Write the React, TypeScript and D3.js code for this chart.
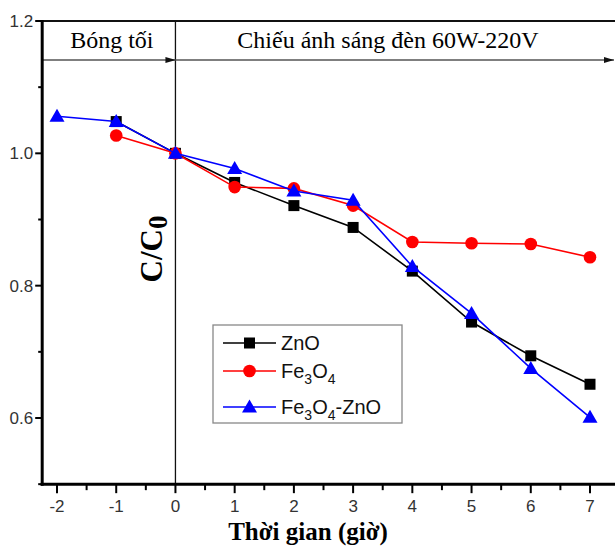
import React, { useEffect, useRef } from "react";
import * as d3 from "d3";

const hours = [-2, -1, 0, 1, 2, 3, 4, 5, 6, 7];
const zno = [null, 1.048, 1.0, 0.956, 0.921, 0.888, 0.822, 0.745, 0.694, 0.651];
const fe3o4 = [null, 1.027, 1.0, 0.949, 0.947, 0.921, 0.866, 0.864, 0.863, 0.843];
const fe3o4Zno = [1.056, 1.048, 1.0, 0.977, 0.943, 0.929, 0.829, 0.758, 0.675, 0.601];
const yTicks = [0.6, 0.8, 1.0, 1.2];

const series = [
  { name: "ZnO", values: zno, color: "#000000", shape: "square" },
  { name: "Fe3O4", values: fe3o4, color: "#ff0000", shape: "circle" },
  { name: "Fe3O4-ZnO", values: fe3o4Zno, color: "#0000ff", shape: "triangle" },
];

const W = 615;
const H = 549;

const App = () => {
  const ref = useRef<SVGSVGElement>(null);

  useEffect(() => {
    const svg = d3.select(ref.current);
    svg.selectAll("*").remove();

    const x = d3.scaleLinear().domain([-2, 7]).range([57, 590]);
    const y = d3.scaleLinear().domain([0.6, 1.2]).range([418, 21]);
    const left = x(-2.25);
    const bottom = y(0.5);
    const top = y(1.2);

    const defs = svg.append("defs");
    defs
      .append("marker")
      .attr("id", "arr")
      .attr("viewBox", "0 0 10 6")
      .attr("refX", 10)
      .attr("refY", 3)
      .attr("markerWidth", 10)
      .attr("markerHeight", 6)
      .attr("markerUnits", "userSpaceOnUse")
      .attr("orient", "auto")
      .append("path")
      .attr("d", "M0,0L10,3L0,6Z")
      .attr("fill", "#111");

    // frame lines
    svg.append("line")
      .attr("x1", left).attr("x2", W).attr("y1", top).attr("y2", top)
      .attr("stroke", "#111").attr("stroke-width", 2);
    svg.append("line")
      .attr("x1", x(0)).attr("x2", x(0)).attr("y1", top).attr("y2", bottom)
      .attr("stroke", "#111").attr("stroke-width", 1.3);

    // region arrows
    const arrowY = 60;
    svg.append("line")
      .attr("x1", left).attr("x2", x(0)).attr("y1", arrowY).attr("y2", arrowY)
      .attr("stroke", "#555").attr("stroke-width", 1.3)
      .attr("marker-end", "url(#arr)");
    svg.append("line")
      .attr("x1", x(0)).attr("x2", W - 1).attr("y1", arrowY).attr("y2", arrowY)
      .attr("stroke", "#555").attr("stroke-width", 1.3)
      .attr("marker-end", "url(#arr)");

    svg.append("text")
      .attr("x", (left + x(0)) / 2 + 3).attr("y", 48)
      .attr("text-anchor", "middle")
      .style("font-family", "'Liberation Serif', 'Times New Roman', serif")
      .style("font-size", "24px")
      .text("Bóng tối");
    svg.append("text")
      .attr("x", 388).attr("y", 48)
      .attr("text-anchor", "middle")
      .style("font-family", "'Liberation Serif', 'Times New Roman', serif")
      .style("font-size", "24px")
      .text("Chiếu ánh sáng đèn 60W-220V");

    // y axis
    const yAxis = svg.append("g");
    yAxis.append("line")
      .attr("x1", left).attr("x2", left).attr("y1", top - 1).attr("y2", bottom + 1.5)
      .attr("stroke", "#000").attr("stroke-width", 3);
    const yMinor = d3.range(0.5, 1.21, 0.1);
    yAxis.selectAll("line.ym").data(yMinor).enter().append("line")
      .attr("class", "ym")
      .attr("x1", left).attr("x2", d => (Math.round(d * 10) % 2 === 0 ? left - 7 : left - 4))
      .attr("y1", d => y(d)).attr("y2", d => y(d))
      .attr("stroke", "#000").attr("stroke-width", 2);
    yAxis.selectAll("text").data(yTicks).enter().append("text")
      .attr("x", left - 9).attr("y", d => y(d) + 6)
      .attr("text-anchor", "end")
      .style("font-family", "'Liberation Sans', Arial, sans-serif")
      .style("font-size", "17px")
      .attr("fill", "#333")
      .text(d => d3.format(".1f")(d));

    // x axis
    const xAxis = svg.append("g");
    xAxis.append("line")
      .attr("x1", left - 1.5).attr("x2", W).attr("y1", bottom).attr("y2", bottom)
      .attr("stroke", "#000").attr("stroke-width", 3);
    const xMinor = d3.range(-2, 7.6, 0.5);
    xAxis.selectAll("line.xm").data(xMinor).enter().append("line")
      .attr("class", "xm")
      .attr("x1", d => x(d)).attr("x2", d => x(d))
      .attr("y1", bottom).attr("y2", d => (d % 1 === 0 ? bottom + 9 : bottom + 6))
      .attr("stroke", "#000").attr("stroke-width", 2);
    xAxis.selectAll("text").data(hours).enter().append("text")
      .attr("x", d => x(d)).attr("y", bottom + 28)
      .attr("text-anchor", "middle")
      .style("font-family", "'Liberation Sans', Arial, sans-serif")
      .style("font-size", "17px")
      .attr("fill", "#333")
      .text(d => d);

    // axis titles
    svg.append("text")
      .attr("x", 308).attr("y", 540)
      .attr("text-anchor", "middle")
      .style("font-family", "'Liberation Serif', 'Times New Roman', serif")
      .style("font-size", "25px")
      .style("font-weight", "bold")
      .text("Thời gian (giờ)");

    const yl = svg.append("text")
      .attr("transform", `translate(162,249) rotate(-90)`)
      .attr("text-anchor", "middle")
      .style("font-family", "'Liberation Serif', 'Times New Roman', serif")
      .style("font-size", "31px")
      .style("font-weight", "bold");
    yl.append("tspan").text("C/C");
    yl.append("tspan").attr("dy", 5).style("font-size", "27px").text("0");

    // series
    const drawMarker = (g, shape, color, cx, cy) => {
      if (shape === "square") {
        g.append("rect").attr("x", cx - 5.5).attr("y", cy - 5.5).attr("width", 11).attr("height", 11).attr("fill", color);
      } else if (shape === "circle") {
        g.append("circle").attr("cx", cx).attr("cy", cy).attr("r", 6.3).attr("fill", color);
      } else {
        g.append("path").attr("d", `M${cx},${cy - 7.5}L${cx + 7.5},${cy + 5.5}L${cx - 7.5},${cy + 5.5}Z`).attr("fill", color);
      }
    };

    series.forEach(s => {
      const pts = hours.map((h, i) => [h, s.values[i]]).filter(p => p[1] != null);
      const line = d3.line().x(d => x(d[0])).y(d => y(d[1]));
      const g = svg.append("g");
      g.append("path")
        .attr("d", line(pts))
        .attr("fill", "none")
        .attr("stroke", s.color)
        .attr("stroke-width", 1.6);
      pts.forEach(p => drawMarker(g, s.shape, s.color, x(p[0]), y(p[1])));
    });

    // legend
    const lg = svg.append("g");
    lg.append("rect")
      .attr("x", 213).attr("y", 325).attr("width", 189).attr("height", 98)
      .attr("fill", "white").attr("stroke", "#888").attr("stroke-width", 1.3);
    const rowY = [343, 371, 407];
    series.forEach((s, i) => {
      const ry = rowY[i];
      lg.append("line").attr("x1", 223).attr("x2", 276).attr("y1", ry).attr("y2", ry)
        .attr("stroke", s.color).attr("stroke-width", 1.6);
      drawMarker(lg, s.shape, s.color, 249.5, ry);
      const t = lg.append("text")
        .attr("x", 281).attr("y", ry + 7)
        .style("font-family", "'Liberation Sans', Arial, sans-serif")
        .style("font-size", "20px")
        .attr("fill", "#111");
      if (s.name === "ZnO") {
        t.text("ZnO");
      } else {
        t.append("tspan").text("Fe");
        t.append("tspan").attr("dy", 6).style("font-size", "14px").text("3");
        t.append("tspan").attr("dy", -6).text("O");
        t.append("tspan").attr("dy", 6).style("font-size", "14px").text("4");
        if (s.name === "Fe3O4-ZnO") t.append("tspan").attr("dy", -6).text("-ZnO");
      }
    });
  }, []);

  return (
    <svg ref={ref} width={W} height={H} style={{ position: "absolute", left: 0, top: 0, background: "white" }} />
  );
};

export default App;
